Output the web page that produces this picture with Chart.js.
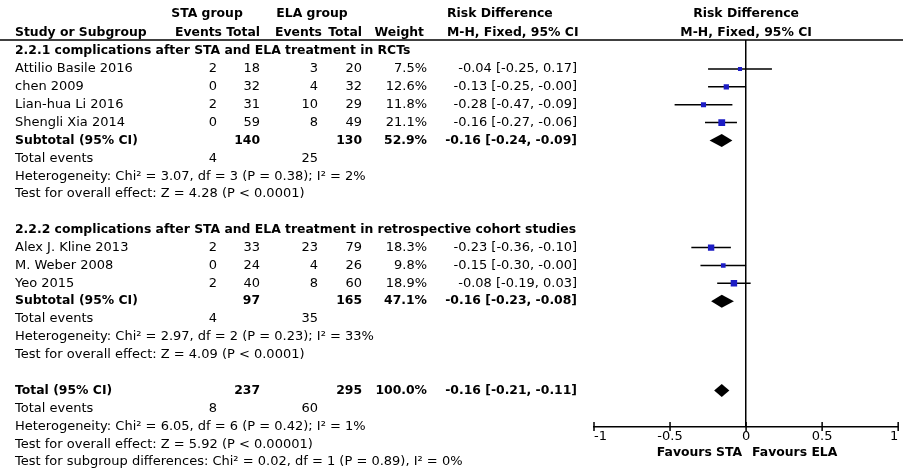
<!DOCTYPE html>
<html>
<head>
<meta charset="utf-8">
<script src="https://cdn.jsdelivr.net/npm/chart.js@4.4.0/dist/chart.umd.min.js"></script>
<style>
html, body { margin: 0; padding: 0; background: #fff; }
#wrap { width: 903px; height: 472px; }
</style>
</head>
<body>
<div id="wrap"><canvas id="forestChart" width="903" height="472"></canvas></div>
<script>
// Datos de los estudios
const studies = ['Attilio Basile 2016', 'chen 2009', 'Lian-hua Li 2016', 'Shengli Xia 2014', 'Alex J. Kline 2013', 'M. Weber 2008', 'Yeo 2015'];
const studyGroup = [0, 0, 0, 0, 1, 1, 1];
const staEvents = [2, 0, 2, 0, 2, 0, 2];
const staTotal = [18, 32, 31, 59, 33, 24, 40];
const elaEvents = [3, 4, 10, 8, 23, 4, 8];
const elaTotal = [20, 32, 29, 49, 79, 26, 60];
const weights = [7.5, 12.6, 11.8, 21.1, 18.3, 9.8, 18.9];
const rd = [-0.04, -0.13, -0.28, -0.16, -0.23, -0.15, -0.08];
const ciLow = [-0.25, -0.25, -0.47, -0.27, -0.36, -0.30, -0.19];
const ciHigh = [0.17, -0, -0.09, -0.06, -0.10, -0, 0.03];

// Subtotales (0, 1) y total (2)
const subgroupTitles = ['2.2.1 complications after STA and ELA treatment in RCTs', '2.2.2 complications after STA and ELA treatment in retrospective cohort studies'];
const summaryLabels = ['Subtotal (95% CI)', 'Subtotal (95% CI)', 'Total (95% CI)'];
const summaryStaTotal = [140, 97, 237];
const summaryElaTotal = [130, 165, 295];
const summaryWeight = [52.9, 47.1, 100.0];
const summaryRd = [-0.16, -0.16, -0.16];
const summaryLow = [-0.24, -0.23, -0.21];
const summaryHigh = [-0.09, -0.08, -0.11];
const summaryStaEvents = [4, 4, 8];
const summaryElaEvents = [25, 35, 60];
const heterogeneity = [
    'Heterogeneity: Chi\u00b2 = 3.07, df = 3 (P = 0.38); I\u00b2 = 2%',
    'Heterogeneity: Chi\u00b2 = 2.97, df = 2 (P = 0.23); I\u00b2 = 33%',
    'Heterogeneity: Chi\u00b2 = 6.05, df = 6 (P = 0.42); I\u00b2 = 1%'
];
const overallEffect = [
    'Test for overall effect: Z = 4.28 (P < 0.0001)',
    'Test for overall effect: Z = 4.09 (P < 0.0001)',
    'Test for overall effect: Z = 5.92 (P < 0.00001)'
];
const subgroupTest = 'Test for subgroup differences: Chi\u00b2 = 0.02, df = 1 (P = 0.89), I\u00b2 = 0%';
const xTicks = [-1, -0.5, 0, 0.5, 1];

const FONT = '"DejaVu Sans", Verdana, sans-serif';

// Formato tipo RevMan (conserva el signo de -0.00)
function fmt(v) {
    const neg = v < 0 || Object.is(v, -0);
    return (neg ? '-' : '') + Math.abs(v).toFixed(2);
}
function ciText(e, lo, hi) {
    return fmt(e) + ' [' + fmt(lo) + ', ' + fmt(hi) + ']';
}

// Construir las filas (índice de fila = valor en el eje y)
const rows = [];
let k = 0;
for (let g = 0; g < 2; g++) {
    rows.push({ k: k++, type: 'title', g: g });
    studies.forEach(function(s, i) {
        if (studyGroup[i] === g) rows.push({ k: k++, type: 'study', i: i });
    });
    rows.push({ k: k++, type: 'summary', s: g });
    rows.push({ k: k++, type: 'events', s: g });
    rows.push({ k: k++, type: 'text', text: heterogeneity[g] });
    rows.push({ k: k++, type: 'text', text: overallEffect[g] });
    k++;
}
rows.push({ k: k++, type: 'summary', s: 2 });
rows.push({ k: k++, type: 'events', s: 2 });
rows.push({ k: k++, type: 'text', text: heterogeneity[2] });
rows.push({ k: k++, type: 'text', text: overallEffect[2] });
rows.push({ k: k++, type: 'text', text: subgroupTest });

const studyRow = {};
const summaryRow = {};
rows.forEach(function(r) {
    if (r.type === 'study') studyRow[r.i] = r.k;
    if (r.type === 'summary') summaryRow[r.s] = r.k;
});

// Líneas de IC con cortes (null) entre estudios
const ciLines = [];
studies.forEach(function(s, i) {
    ciLines.push({ x: ciLow[i], y: studyRow[i] });
    ciLines.push({ x: ciHigh[i], y: studyRow[i] });
    ciLines.push({ x: ciHigh[i], y: null });
});
const squares = studies.map(function(s, i) { return { x: rd[i], y: studyRow[i] }; });

// Plugin: rombos de subtotales/total
const diamondPlugin = {
    id: 'diamonds',
    afterDatasetsDraw: function(chart) {
        const x = chart.scales.x, y = chart.scales.y, ctx = chart.ctx;
        ctx.save();
        ctx.fillStyle = '#000';
        summaryRd.forEach(function(e, s) {
            const cy = y.getPixelForValue(summaryRow[s]);
            const h = 6.5;
            ctx.beginPath();
            ctx.moveTo(x.getPixelForValue(summaryLow[s]), cy);
            ctx.lineTo(x.getPixelForValue(e), cy - h);
            ctx.lineTo(x.getPixelForValue(summaryHigh[s]), cy);
            ctx.lineTo(x.getPixelForValue(e), cy + h);
            ctx.closePath();
            ctx.fill();
        });
        ctx.restore();
    }
};

// Plugin: tabla de texto, encabezados y marcas del eje
const tablePlugin = {
    id: 'table',
    afterDraw: function(chart) {
        const ctx = chart.ctx, x = chart.scales.x, y = chart.scales.y, area = chart.chartArea;
        const reg = '13px ' + FONT, bold = 'bold 12.4px ' + FONT;
        function txt(t, px, row, align, font) {
            ctx.font = font || reg;
            ctx.textAlign = align || 'left';
            ctx.fillText(t, px, y.getPixelForValue(row));
        }
        ctx.save();
        ctx.fillStyle = '#000';
        ctx.textBaseline = 'middle';

        // encabezados
        const h1 = -2.1, h2 = -1.05;
        const x0 = x.getPixelForValue(0);
        txt('STA group', 207, h1, 'center', bold);
        txt('ELA group', 312, h1, 'center', bold);
        txt('Risk Difference', 447, h1, 'left', bold);
        txt('Risk Difference', x0, h1, 'center', bold);
        txt('Study or Subgroup', 15, h2, 'left', bold);
        txt('Events', 222, h2, 'right', bold);
        txt('Total', 260, h2, 'right', bold);
        txt('Events', 322, h2, 'right', bold);
        txt('Total', 362, h2, 'right', bold);
        txt('Weight', 424, h2, 'right', bold);
        txt('M-H, Fixed, 95% CI', 447, h2, 'left', bold);
        txt('M-H, Fixed, 95% CI', x0, h2, 'center', bold);

        // línea horizontal del encabezado
        ctx.strokeStyle = '#000';
        ctx.lineWidth = 1.5;
        ctx.beginPath();
        ctx.moveTo(0, area.top);
        ctx.lineTo(chart.width, area.top);
        ctx.stroke();

        rows.forEach(function(r) {
            if (r.type === 'title') {
                txt(subgroupTitles[r.g], 15, r.k, 'left', bold);
            } else if (r.type === 'study') {
                const i = r.i;
                txt(studies[i], 15, r.k);
                txt(String(staEvents[i]), 217, r.k, 'right');
                txt(String(staTotal[i]), 260, r.k, 'right');
                txt(String(elaEvents[i]), 318, r.k, 'right');
                txt(String(elaTotal[i]), 362, r.k, 'right');
                txt(weights[i].toFixed(1) + '%', 427, r.k, 'right');
                txt(ciText(rd[i], ciLow[i], ciHigh[i]), 577, r.k, 'right');
            } else if (r.type === 'summary') {
                const s = r.s;
                txt(summaryLabels[s], 15, r.k, 'left', bold);
                txt(String(summaryStaTotal[s]), 260, r.k, 'right', bold);
                txt(String(summaryElaTotal[s]), 362, r.k, 'right', bold);
                txt(summaryWeight[s].toFixed(1) + '%', 427, r.k, 'right', bold);
                txt(ciText(summaryRd[s], summaryLow[s], summaryHigh[s]), 577, r.k, 'right', bold);
            } else if (r.type === 'events') {
                txt('Total events', 15, r.k);
                txt(String(summaryStaEvents[r.s]), 217, r.k, 'right');
                txt(String(summaryElaEvents[r.s]), 318, r.k, 'right');
            } else {
                txt(r.text, 15, r.k);
            }
        });

        // marcas del eje x (cruzan la línea)
        ctx.beginPath();
        xTicks.forEach(function(v) {
            const px = x.getPixelForValue(v);
            ctx.moveTo(px, area.bottom - 5);
            ctx.lineTo(px, area.bottom + 4);
        });
        ctx.stroke();

        // etiquetas Favours
        ctx.font = bold;
        const fy = area.bottom + 26;
        ctx.textAlign = 'right';
        ctx.fillText('Favours STA', x0 - 4, fy);
        ctx.textAlign = 'left';
        ctx.fillText('Favours ELA', x0 + 6, fy);
        ctx.restore();
    }
};

new Chart(document.getElementById('forestChart'), {
    type: 'scatter',
    data: {
        datasets: [{
            label: 'Risk difference',
            data: squares,
            order: 0,
            pointStyle: 'rect',
            pointRadius: weights.map(function(w) { return Math.sqrt(w) * 1.05; }),
            backgroundColor: '#1c1cc4',
            borderWidth: 0
        }, {
            label: '95% CI',
            data: ciLines,
            order: 1,
            showLine: true,
            spanGaps: false,
            pointRadius: 0,
            borderColor: '#000',
            borderWidth: 1.5
        }]
    },
    options: {
        responsive: false,
        animation: false,
        events: [],
        layout: { padding: { left: 594, right: 3, top: 40, bottom: 0 } },
        plugins: {
            legend: { display: false },
            tooltip: { enabled: false }
        },
        scales: {
            x: {
                type: 'linear',
                min: -1,
                max: 1,
                afterBuildTicks: function(s) { s.ticks = xTicks.map(function(v) { return { value: v }; }); },
                afterFit: function(s) { s.height = 45; },
                ticks: {
                    align: 'inner',
                    padding: 2,
                    color: '#000',
                    maxRotation: 0,
                    autoSkip: false,
                    font: { family: FONT, size: 13 },
                    callback: function(v) { return String(v); }
                },
                grid: {
                    drawTicks: false,
                    lineWidth: 1.5,
                    color: function(c) { return c.tick && c.tick.value === 0 ? '#000' : 'rgba(0,0,0,0)'; }
                },
                border: { display: true, color: '#000', width: 1.5 }
            },
            y: {
                type: 'linear',
                reverse: true,
                min: -0.62,
                max: 21.04,
                display: false
            }
        }
    },
    plugins: [diamondPlugin, tablePlugin]
});
</script>
</body>
</html>
